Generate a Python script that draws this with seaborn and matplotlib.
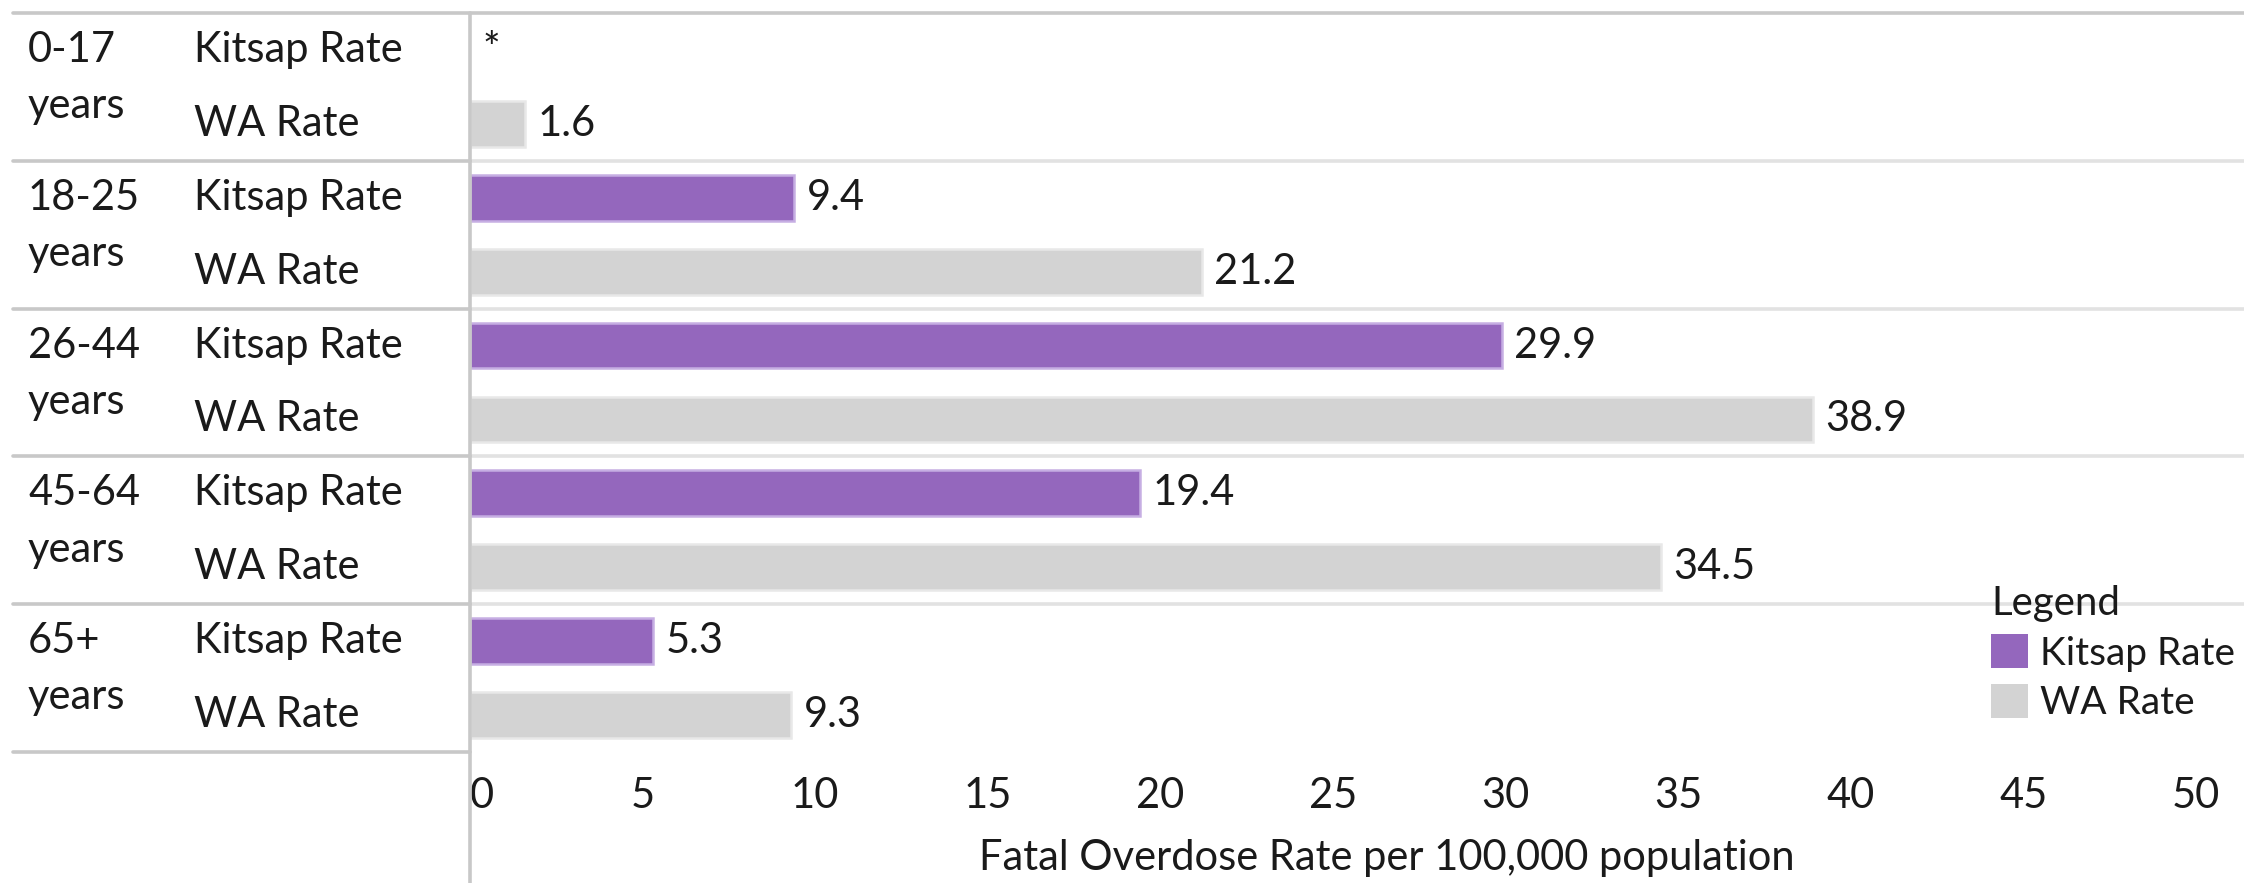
import numpy as np
import pandas as pd
import matplotlib
matplotlib.use('Agg')
import matplotlib.pyplot as plt
import matplotlib.transforms as mtransforms
from matplotlib.lines import Line2D
from matplotlib.patches import Patch
import seaborn as sns

# data
age_groups = ['0-17', '18-25', '26-44', '45-64', '65+']
series_names = ['Kitsap Rate', 'WA Rate']
kitsap_rate = [np.nan, 9.4, 29.9, 19.4, 5.3]   # 0-17 Kitsap suppressed (*)
wa_rate = [1.6, 21.2, 38.9, 34.5, 9.3]
x_ticks = [0, 5, 10, 15, 20, 25, 30, 35, 40, 45, 50]
x_label = 'Fatal Overdose Rate per 100,000 population'
missing_mark = '*'

colors = {'Kitsap Rate': '#9467bd', 'WA Rate': '#d3d3d3'}
edge_colors = {'Kitsap Rate': '#c6aee3', 'WA Rate': '#e8e8e8'}

records = []
for g, k, w in zip(age_groups, kitsap_rate, wa_rate):
    records.append({'group': g, 'series': 'Kitsap Rate', 'rate': k})
    records.append({'group': g, 'series': 'WA Rate', 'rate': w})
df = pd.DataFrame(records)
df['row'] = df['group'] + ' ' + df['series']
row_order = list(df['row'])

sns.set_theme(style='white')
plt.rcParams['font.family'] = ['Lato', 'DejaVu Sans']
plt.rcParams['text.color'] = '#1a1a1a'

W, H = 2244, 883
fig = plt.figure(figsize=(W / 100, H / 100), dpi=100)
ax = fig.add_axes([470 / W, 1 - 752 / H, 1 - 470 / W, (752 - 13) / H])

sns.barplot(data=df, x='rate', y='row', hue='series', order=row_order,
            hue_order=series_names, palette=colors, dodge=False, width=0.62,
            orient='h', legend=False, ax=ax, linewidth=1.8, saturation=1)
for cont, name in zip(ax.containers, series_names):
    for bar in cont:
        bar.set_edgecolor(edge_colors[name])

ax.set_xlim(0, 51.4)
ax.set_ylim(len(row_order) - 0.5, -0.5)
for s in ax.spines.values():
    s.set_visible(False)
ax.set_yticks([])
ax.set_ylabel('')
ax.set_xticks(x_ticks)
ax.tick_params(axis='x', length=0, pad=18, labelsize=30, labelcolor='#1a1a1a')
ax.get_xticklabels()[0].set_ha('left')
ax.set_xlabel(x_label, fontsize=30, color='#1a1a1a')
ax.xaxis.set_label_coords((1387 - 470) / (W - 470), -0.118)

# light separators inside the plot area
for i in range(1, len(age_groups)):
    ax.axhline(2 * i - 0.5, color='#e2e2e2', lw=2.6, zorder=0)

# value labels
for i, row in enumerate(row_order):
    v = df.loc[i, 'rate']
    txt = missing_mark if np.isnan(v) else f'{v:.1f}'
    xv = 0 if np.isnan(v) else v
    ax.annotate(txt, xy=(xv, i), xytext=(9, 0), textcoords='offset points',
                va='center', ha='left', fontsize=30, color='#1a1a1a')

# table on the left
tr = mtransforms.blended_transform_factory(fig.transFigure, ax.transData)
for gi, g in enumerate(age_groups):
    fig.text(28 / W, 2 * gi, g, transform=tr, va='center', ha='left', fontsize=30)
    fig.text(28 / W, 2 * gi + 0.76, 'years', transform=tr, va='center', ha='left', fontsize=30)
    for si, name in enumerate(series_names):
        fig.text(194 / W, 2 * gi + si, name, transform=tr, va='center', ha='left', fontsize=30)

for i in range(len(age_groups) + 1):
    yb = 2 * i - 0.5
    x_end = 1.0 if i == 0 else 470 / W
    fig.add_artist(Line2D([13 / W, x_end], [yb, yb], transform=tr,
                          color='#c8c8c8', lw=2.6))
fig.add_artist(Line2D([470 / W, 470 / W], [1 - 13 / H, 0], transform=fig.transFigure,
                      color='#c8c8c8', lw=2.6))

handles = [Patch(facecolor=colors[n], edgecolor='none') for n in series_names]
fig.legend(handles, series_names, title='Legend', loc='upper left',
           bbox_to_anchor=(1991 / W, 1 - 585 / H), frameon=False, fontsize=28,
           title_fontsize=29, alignment='left', borderpad=0, borderaxespad=0,
           handlelength=0.95, handleheight=0.95, handletextpad=0.3,
           labelspacing=0.32)

fig.savefig('out.png', dpi=100)
plt.close(fig)
